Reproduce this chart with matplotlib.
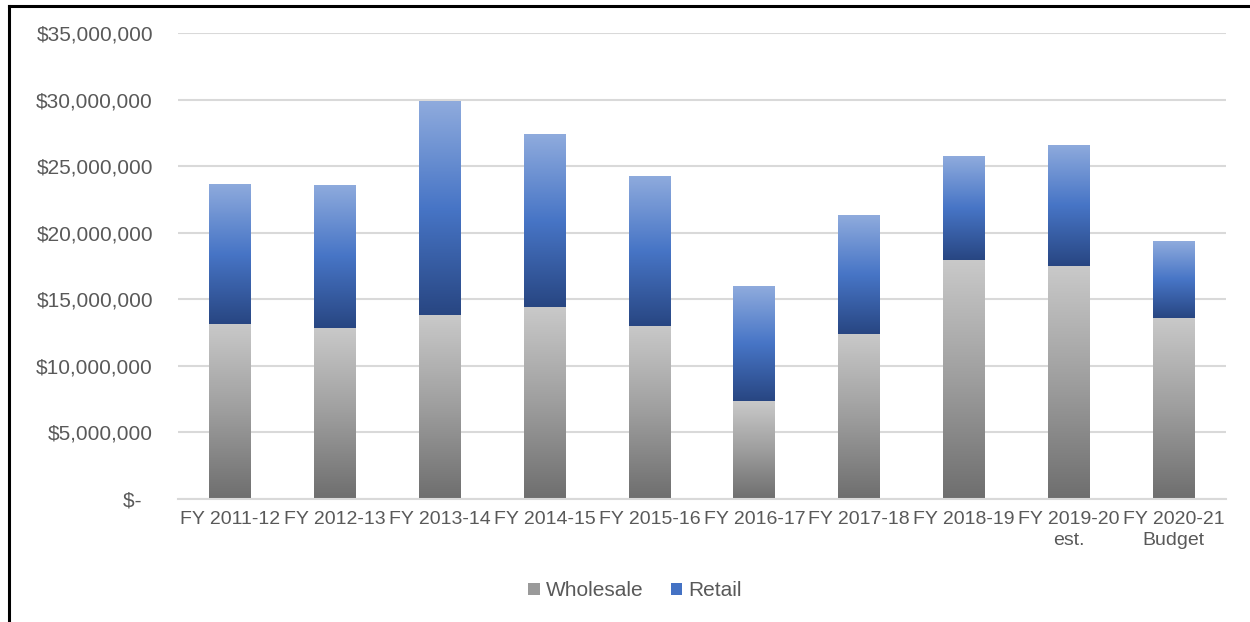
import numpy as np
import matplotlib
matplotlib.use("Agg")
import matplotlib.pyplot as plt
from matplotlib.colors import LinearSegmentedColormap
from matplotlib.ticker import FuncFormatter
from matplotlib.lines import Line2D
from matplotlib.patches import Rectangle

plt.rcParams['font.family'] = ['Liberation Sans', 'DejaVu Sans']

categories = ["FY 2011-12", "FY 2012-13", "FY 2013-14", "FY 2014-15", "FY 2015-16",
              "FY 2016-17", "FY 2017-18", "FY 2018-19", "FY 2019-20\nest.", "FY 2020-21\nBudget"]
wholesale = [13_150_000, 12_830_000, 13_800_000, 14_420_000, 13_000_000,
             7_360_000, 12_400_000, 17_950_000, 17_500_000, 13_620_000]
retail_total = [23_680_000, 23_600_000, 29_870_000, 27_390_000, 24_280_000,
                15_970_000, 21_310_000, 25_740_000, 26_610_000, 19_380_000]
retail = [t - w for t, w in zip(retail_total, wholesale)]

gray_cmap = LinearSegmentedColormap.from_list("gray_grad", ["#6e6e6e", "#9e9e9e", "#c9c9c9"])
blue_cmap = LinearSegmentedColormap.from_list("blue_grad", ["#284682", "#4775c6", "#8fabdd"])
text_color = "#595959"
grid_color = "#d9d9d9"

fig = plt.figure(figsize=(12.5, 6.22), dpi=100)
ax = fig.add_axes([178 / 1250, 1 - 499 / 622, (1226 - 178) / 1250, (499 - 33) / 622])

x = np.arange(len(categories))
width = 0.4
bars_w = ax.bar(x, wholesale, width, color="none", label="Wholesale", zorder=2)
bars_r = ax.bar(x, retail, width, bottom=wholesale, color="none", label="Retail", zorder=2)

grad = np.linspace(0, 1, 256).reshape(-1, 1)


def fill_gradient(bars, cmap):
    for patch in bars.patches:
        bx, by = patch.get_x(), patch.get_y()
        bw, bh = patch.get_width(), patch.get_height()
        im = ax.imshow(grad, cmap=cmap, aspect="auto", origin="lower",
                       extent=(bx, bx + bw, by, by + bh), zorder=2,
                       interpolation="bilinear")
        im.set_clip_path(patch)


fill_gradient(bars_w, gray_cmap)
fill_gradient(bars_r, blue_cmap)

ax.set_xlim(-0.5, len(categories) - 0.5)
ax.set_ylim(0, 35_000_000)
ax.set_yticks(np.arange(0, 35_000_001, 5_000_000))


def money(v, _):
    return "$-  " if v == 0 else f"${v:,.0f}"


ax.yaxis.set_major_formatter(FuncFormatter(money))
ax.set_xticks(x)
ax.set_xticklabels(categories, linespacing=1.3)

ax.grid(axis="y", color=grid_color, linewidth=1.5, zorder=0)
ax.set_axisbelow(True)
for side in ["top", "right", "left"]:
    ax.spines[side].set_visible(False)
ax.spines["bottom"].set_color(grid_color)
ax.spines["bottom"].set_linewidth(1.5)
ax.tick_params(axis="both", length=0, colors=text_color)
ax.tick_params(axis="y", pad=18, labelsize=15)
ax.tick_params(axis="x", pad=9, labelsize=14)

handles = [Rectangle((0, 0), 1, 1, facecolor="#9a9a9a", edgecolor="none"),
           Rectangle((0, 0), 1, 1, facecolor="#4472c4", edgecolor="none")]
fig.legend(handles, ["Wholesale", "Retail"], loc="center", bbox_to_anchor=(0.508, 1 - 591 / 622),
           ncol=2, frameon=False, fontsize=15, labelcolor=text_color,
           handlelength=0.55, handleheight=0.55, handletextpad=0.3, columnspacing=1.3)

# outer frame (left and top edges)
fig.add_artist(Line2D([8.5 / 1250, 8.5 / 1250], [0, 1 - 6 / 622], transform=fig.transFigure,
                      color="black", linewidth=2.2))
fig.add_artist(Line2D([8.5 / 1250, 1], [1 - 6 / 622, 1 - 6 / 622], transform=fig.transFigure,
                      color="black", linewidth=2.2))

fig.savefig("out.png", dpi=100, facecolor="white")
